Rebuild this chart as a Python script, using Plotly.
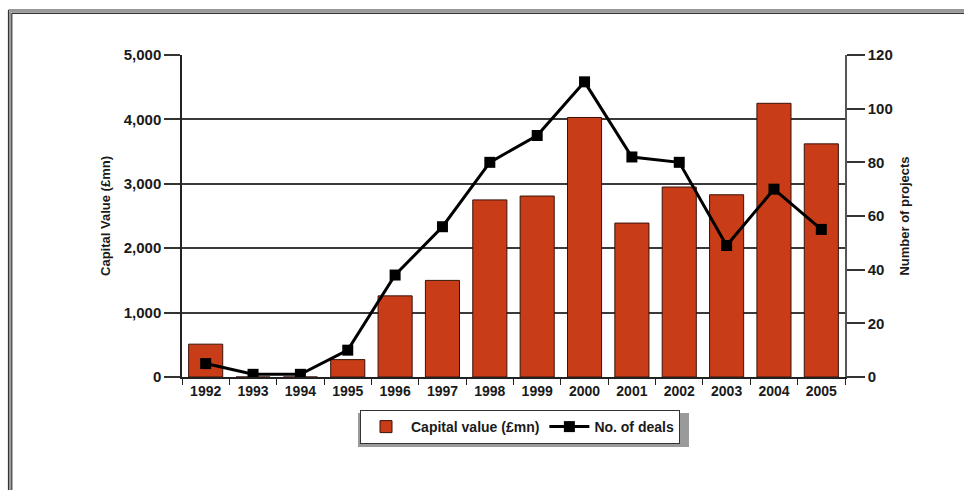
import plotly.graph_objects as go

# Data
years = ["1992", "1993", "1994", "1995", "1996", "1997", "1998",
         "1999", "2000", "2001", "2002", "2003", "2004", "2005"]
capital_value = [510, 0, 0, 270, 1260, 1500, 2750,
                 2810, 4030, 2390, 2950, 2830, 4250, 3620]
num_deals = [5, 1, 1, 10, 38, 56, 80,
             90, 110, 82, 80, 49, 70, 55]

W, H = 964, 490
ML, MR, MT, MB = 182, 119, 55, 113
PW, PH = W - ML - MR, H - MT - MB

FONT = "Liberation Sans Narrow, Arial Narrow, Liberation Sans, sans-serif"
TXT = "#1a1a1a"
BAR = "#c83c18"


def px_x(x):
    return (x - ML) / PW


def px_y(y):
    return (H - MB - y) / PH


fig = go.Figure()

fig.add_trace(go.Bar(
    x=years, y=capital_value, name="<b>Capital value (£mn)</b>",
    marker=dict(color=BAR, line=dict(color="#3a1208", width=1)),
    yaxis="y",
))

fig.add_trace(go.Scatter(
    x=years, y=num_deals, name="<b>No. of deals</b>", mode="lines+markers",
    line=dict(color="black", width=3),
    marker=dict(symbol="square", size=11, color="black"),
    yaxis="y2",
))

# Page frame (double rule along top and left)
frame = []
for x0, col, w in [(8.5, "#333333", 1.2), (10, "#9a9a9a", 2), (11.8, "#333333", 1.2)]:
    frame.append(dict(type="line", xref="paper", yref="paper",
                      x0=px_x(x0), x1=px_x(x0), y0=px_y(x0 + 1.5), y1=px_y(H),
                      line=dict(color=col, width=w)))
    frame.append(dict(type="line", xref="paper", yref="paper",
                      x0=px_x(x0), x1=px_x(W), y0=px_y(x0 + 1.5), y1=px_y(x0 + 1.5),
                      line=dict(color=col, width=w)))

# Legend drop shadow
frame.append(dict(type="rect", xref="paper", yref="paper",
                  x0=px_x(358), x1=px_x(689), y0=px_y(413), y1=px_y(447),
                  fillcolor="#9a9a9a", line=dict(width=0), layer="below"))

fig.update_layout(
    width=W, height=H,
    margin=dict(l=ML, r=MR, t=MT, b=MB, pad=0),
    paper_bgcolor="white", plot_bgcolor="white",
    font=dict(family=FONT, size=14, color=TXT),
    bargap=0.28,
    showlegend=True,
    legend=dict(orientation="h", x=px_x(520), xanchor="center",
                y=px_y(410), yanchor="top",
                bgcolor="white", bordercolor="#333333", borderwidth=1,
                font=dict(family=FONT, size=14, color=TXT),
                itemwidth=40, tracegroupgap=0),
    shapes=frame,
    xaxis=dict(
        type="category", range=[-0.5, 13.5],
        showline=True, linecolor="#222222", linewidth=1.5,
        ticks="outside", tickson="boundaries", ticklen=6, tickcolor="#222222",
        tickwidth=1, showgrid=False,
        tickfont=dict(family=FONT, size=14, color=TXT),
        tickprefix="<b>", ticksuffix="</b>",
    ),
    yaxis=dict(
        range=[0, 5000], dtick=1000, tickformat=",d",
        showline=True, linecolor="#222222", linewidth=1.5,
        ticks="outside", ticklen=16, tickcolor="#333333", tickwidth=1.5,
        showgrid=True, gridcolor="#3a3a3a", gridwidth=1.5,
        zeroline=False,
        tickfont=dict(family=FONT, size=15, color=TXT),
        tickprefix="<b>", ticksuffix="</b>",
        title=dict(text="<b>Capital Value (£mn)</b>", standoff=10,
                   font=dict(family=FONT, size=13, color=TXT)),
    ),
    yaxis2=dict(
        range=[0, 120], dtick=20, overlaying="y", side="right",
        showline=True, linecolor="#555555", linewidth=1.5,
        ticks="outside", ticklen=18, tickcolor="#333333", tickwidth=1.5,
        showgrid=False, zeroline=False,
        tickfont=dict(family=FONT, size=15, color=TXT),
        tickprefix="<b>", ticksuffix="</b>",
        title=dict(text="<b>Number of projects</b>", standoff=8,
                   font=dict(family=FONT, size=13, color=TXT)),
    ),
)

fig.write_html("out.html")
